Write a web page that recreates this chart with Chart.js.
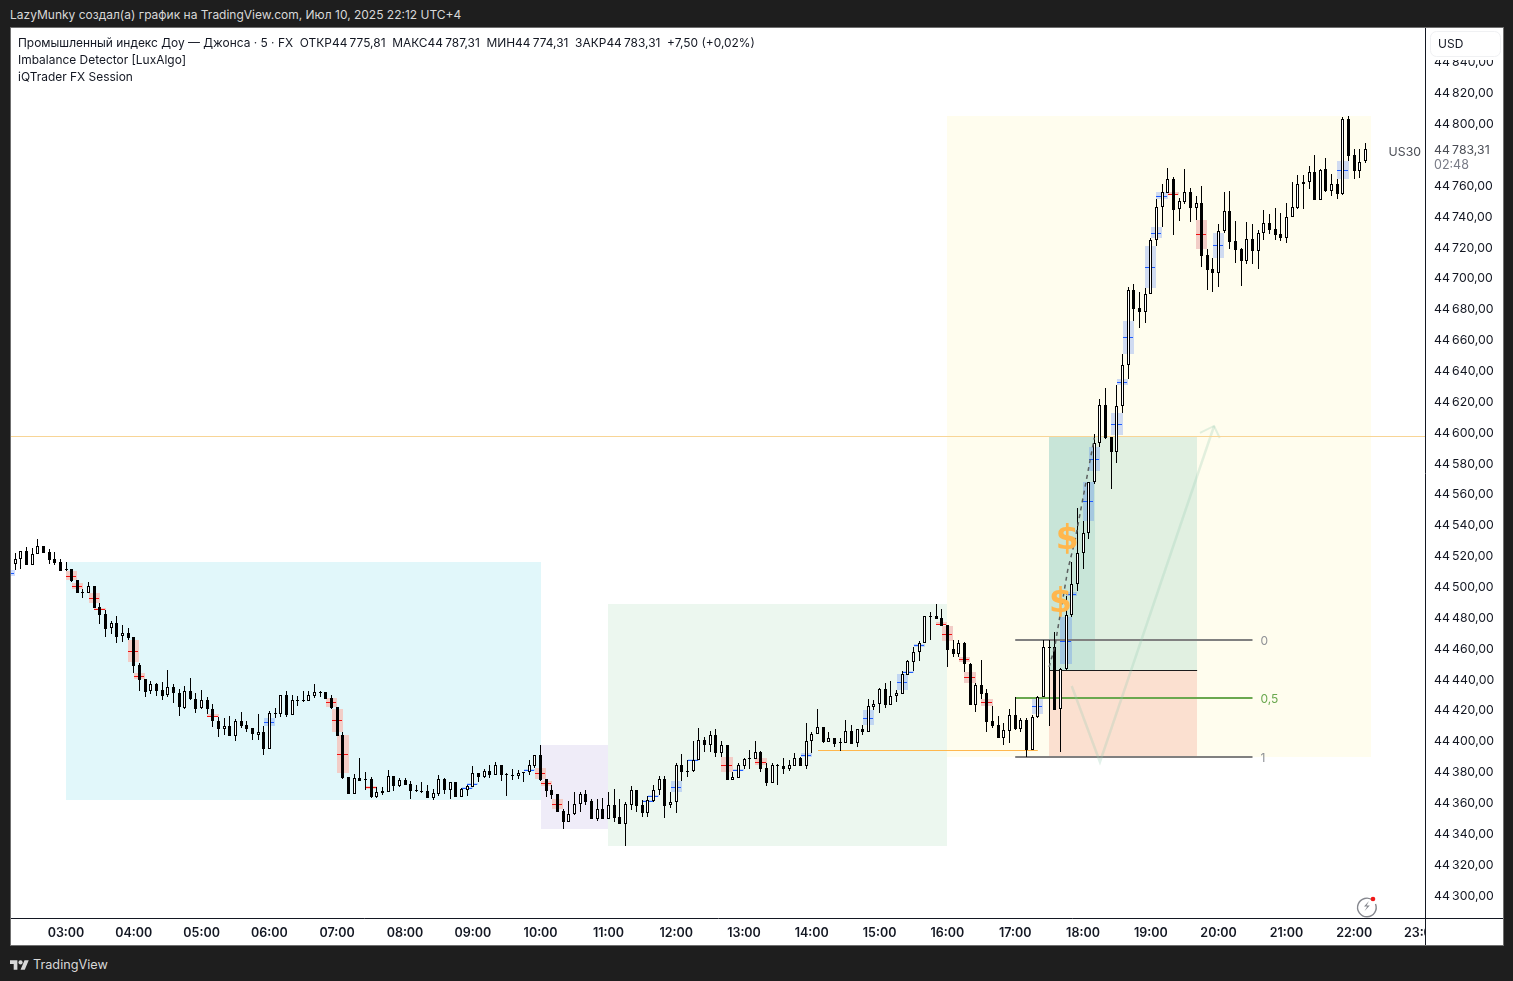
<!DOCTYPE html>
<html lang="ru"><head><meta charset="utf-8">
<title>US30 5m</title>
<script src="https://cdn.jsdelivr.net/npm/chart.js@4"></script>
<style>
html,body{margin:0;padding:0;background:#1e1e1e;width:1513px;height:981px;overflow:hidden;font-family:Inter,"Noto Sans",sans-serif}
#frame{position:absolute;left:11px;top:28px;width:1492px;height:917px;background:#fff;box-shadow:0 0 0 1px #6f6f6f}
#chart{position:absolute;left:0;top:0}
.t{position:absolute;white-space:pre;line-height:16px}
#head{left:10px;top:7px;color:#d8d8d8;font-size:12px}
.leg{left:18px;color:#131722;font-size:11.95px}
#brand{left:33px;top:957px;color:#d8d8d8;font-size:12.7px}
svg{position:absolute}
</style></head><body>
<div class="t" id="head">LazyMunky создал(а) график на TradingView.com, Июл 10, 2025 22:12 UTC+4</div>
<div id="frame"><canvas id="chart" width="1492" height="917"></canvas></div>
<div class="t leg" style="top:35px">Промышленный индекс Доу — Джонса · 5 · FX  ОТКР44&#8201;775,81  МАКС44&#8201;787,31  МИН44&#8201;774,31  ЗАКР44&#8201;783,31  +7,50 (+0,02%)</div>
<div class="t leg" style="top:52px">Imbalance Detector [LuxAlgo]</div>
<div class="t leg" style="top:69px">iQTrader FX Session</div>
<svg style="left:10px;top:958px" width="19" height="13" viewBox="0 0 36 24"><path fill="#d8d8d8" d="M14 22H7V11H0V4h14v18zM28 22h-8l7.5-18h8L28 22z"/><circle cx="20" cy="8" r="4" fill="#d8d8d8"/></svg>
<div class="t" id="brand">TradingView</div>
<svg style="left:1355px;top:894px" width="24" height="24" viewBox="0 0 24 24"><path d="M18 6.5A9.3 9.3 0 1 0 20.5 10" fill="none" stroke="#85878e" stroke-width="1.4"/><path d="M14 7l-5 5.6h3.2L9.6 17l5.2-5.6h-3.2z" fill="#85878e"/><circle cx="18" cy="5" r="2.3" fill="#f01818"/></svg>
<script>
const firstBar = -10;
const hourLabels = ['03:00','04:00','05:00','06:00','07:00','08:00','09:00','10:00','11:00','12:00','13:00','14:00','15:00','16:00','17:00','18:00','19:00','20:00','21:00','22:00','23:00'];
const opens = [
44514.9,44514.7,44517.5,44522.7,44514.1,44520.8,44525.9,44522,44517.5,44515.6,
44511,44511,44503.9,44496.4,44495.5,44500,44486.4,44481.9,44472.8,44476,
44467.6,44469.6,44467,44448.8,44439.8,44432,44436.5,44432.6,44429.4,44434.6,
44430.9,44421.4,44432,44426.8,44421,44426.1,44420.3,44412.5,44407.8,44409.3,
44403.2,44412.5,44409.9,44408,44403.9,44405.4,44394.8,44417.5,44417.5,44429.4,
44416.9,44426.4,44426.1,44425.9,44429.2,44431.3,44431.3,44427.7,44421.8,44403.7,
44376.5,44365.7,44375.8,44375.2,44375.2,44363.7,44367.2,44367,44376.9,44370.8,
44374.3,44371.7,44367.8,44367.2,44367.2,44363.1,44365.7,44375,44368.3,44373,
44363.7,44368.3,44370.2,44378.8,44376.7,44380.1,44378,44384,44378.2,44377.5,
44377.3,44379.3,44379.5,44383.8,44390.5,44375,44367.8,44365.2,44354.4,44347.5,
44352.3,44358.8,44365.2,44360.9,44349.5,44355.5,44349.5,44358.1,44350.3,44346.2,
44358.5,44368,44358.3,44353.3,44361.1,44367.8,44375.3,44358,44360,44384,
44379.9,44380.1,44387.6,44400.4,44397.4,44403.4,44392.2,44396.9,44374.7,44376,
44383.8,44388.3,44388.3,44392.4,44382.2,44372.7,44384,44383.3,44381.8,44383.8,
44388.7,44383.8,44399.5,44404,44408.8,44399.3,44401.5,44399.1,44398.7,44406,
44398.2,44407.3,44405.8,44422,44423.5,44433.2,44423.3,44428.7,44430.4,44442.7,
44451.1,44457.2,44463.5,44480.5,44480.7,44479.2,44474.7,44459.4,44456.2,44463.3,
44449.7,44423.3,44436.1,44430.7,44412.5,44410.2,44402,44406.5,44416.6,44407.8,
44413.4,44394.2,44415.1,44428.1,44460.7,44460.5,44420.3,44446.2,44481.2,44501.3,
44521.4,44534.4,44567.4,44592.7,44617.5,44596.8,44587.3,44616.7,44643.3,44691.8,
44680.1,44678,44689.2,44724.4,44745.6,44755.1,44763.9,44744.3,44749.3,44755.3,
44744.9,44748.4,44714.5,44705.6,44703.2,44730.5,44743,44723.8,44718.4,44711,
44724.9,44717.5,44728.7,44735.2,44731.3,44728.1,44725.9,44739.1,44745.2,44760.5,
44761.8,44768.3,44750.6,44770.2,44756.4,44760.5,44754.2,44802.8,44779.3,44769.4,
44775.81];
const highs = [
44515.4,44521.4,44522.7,44525.7,44524.6,44530.7,44525.9,44524,44522,44517.5,
44515.6,44511,44503.9,44498.1,44502.6,44500,44489,44484.5,44477.3,44480.6,
44474.7,44472.8,44467,44450.6,44439.8,44438.5,44437.6,44437.8,44445.8,44436.7,
44433.3,44435.4,44440.4,44430.9,44432.6,44428.1,44423.8,44415.1,44414.7,44416,
44413.8,44418.6,44412.8,44408,44417.3,44409.5,44419,44421.2,44429.6,44432,
44429.4,44428.7,44432.2,44432.2,44436.7,44432.2,44431.3,44429.4,44421.8,44405.4,
44376.5,44378.4,44388.8,44379.7,44376.2,44369.8,44370,44381,44376.9,44375.6,
44375.8,44373.7,44371,44373.2,44371,44368.5,44377.8,44375.8,44373.2,44373,
44369.3,44371,44383.4,44379,44381.4,44384,44386,44384,44379.3,44381.6,
44381,44379.5,44387.5,44390.7,44397.2,44375.2,44371.3,44365.4,44355.5,44360.9,
44366.7,44366.7,44367.8,44362,44362,44362.9,44366.7,44368.7,44362,44360,
44370.4,44368,44361.5,44364.3,44371,44376.8,44376.8,44366.7,44385.7,44391.3,
44387.2,44399.5,44407.9,44402.3,44406.2,44407.3,44399.9,44396.9,44379.6,44385.3,
44388.5,44393.9,44399.7,44393.2,44385.5,44385.7,44384.8,44388.5,44387.4,44391.7,
44389.1,44411.2,44405.6,44420.5,44408.8,44405.3,44401.5,44401.5,44413.1,44409.9,
44407.3,44409.9,44427,44426.1,44434.1,44437.1,44438.6,44432.8,44445.1,44452,
44460.4,44464.3,44480.5,44483.3,44488.5,44485.3,44474.9,44465.2,44465.2,44463.7,
44450.6,44437.2,44452.3,44433.3,44422.5,44416,44411.7,44420.3,44428.5,44414.5,
44414.5,44416.6,44428.9,44465.2,44465.2,44470.4,44446.9,44493.8,44515.6,44550.6,
44542.4,44567.8,44598.5,44621.4,44628.3,44597,44630.5,44650.4,44693.8,44695.7,
44690.7,44693.3,44725.5,44751,44760.7,44771.1,44765.2,44751.4,44770.2,44758.1,
44752.9,44759.4,44718.6,44712.8,44734.8,44755.3,44756.2,44736.7,44719,44736.1,
44734.8,44730.7,44743.6,44741.3,44744.9,44741.9,44748.4,44762,44766.5,44766.5,
44772.4,44779.3,44770.2,44777.6,44767,44764,44803.9,44804.8,44783.4,44783.2,
44787.31];
const lows = [
44503,44510.6,44511.5,44513.6,44514.1,44520.8,44521.8,44514.5,44514.1,44510.2,
44510.2,44502.6,44495.9,44492.5,44495.5,44486.2,44475.8,44467.4,44469.3,44463.5,
44464.2,44465.5,44444.1,44432.2,44428.5,44430.5,44429.2,44426.4,44428.5,44424.6,
44416.2,44420.7,44426.4,44417.9,44420.7,44417.3,44409.1,44402.6,44403.7,44403,
44400,44408.4,44405.8,44400.4,44400.7,44391,44394.8,44414.7,44415.6,44415.6,
44416.9,44422.7,44425.3,44425.9,44427.9,44428.5,44427,44420.7,44403.2,44375.4,
44365.7,44365.7,44374.1,44368,44363.1,44363.1,44364.6,44367,44367.6,44370.2,
44371.3,44362.4,44366.7,44366.1,44362.9,44361.8,44364.4,44365.4,44362.4,44363.7,
44363.7,44364.4,44370.2,44373.4,44375.6,44376,44378,44374.1,44364.4,44374.5,
44375.4,44373.4,44377.8,44382.3,44373.9,44363.5,44362.2,44353.8,44342.6,44347.5,
44351.6,44354,44358.3,44349.5,44348.2,44349.5,44349.5,44347.3,44345.8,44332,
44355,44353.9,44350.7,44350.7,44360.4,44364.7,44350,44356.5,44352.9,44373.8,
44376.6,44379.9,44387.6,44392.6,44392.6,44389.4,44389.6,44374.7,44374.7,44375.5,
44381.6,44381.6,44388.3,44379.9,44370.8,44372.7,44371.4,44378.6,44380.3,44383.8,
44383.8,44381.6,44392,44404,44398.7,44399.3,44395.8,44393.2,44398.7,44398,
44395.8,44403.6,44405.8,44419.6,44417.9,44421.1,44423.3,44424.8,44430.4,44442.7,
44445.3,44451.8,44463.5,44465.2,44478.8,44474.5,44447.9,44454.4,44454,44444.7,
44423.3,44418.8,44427.2,44405.8,44408.4,44402,44397.4,44398.7,44406.9,44405.8,
44389.6,44394.2,44414.5,44428.1,44409.7,44420.1,44392.9,44445.8,44480.4,44497.2,
44511.5,44530.9,44566.1,44590.5,44595.5,44562.9,44580.2,44612.6,44634.4,44671.9,
44667.6,44670.8,44689.2,44720.7,44733,44755.1,44727.9,44736.9,44747.7,44736.1,
44737.4,44707.1,44692.2,44690.9,44694.2,44729,44718.8,44709.7,44694.8,44709.1,
44709.1,44705.8,44724.6,44728.3,44724.2,44724,44722.7,44739.1,44744.5,44744.5,
44757.7,44750.6,44750.6,44755.3,44753.1,44751.2,44753.8,44775.6,44764.2,44764.8,
44774.31];
const closes = [
44503.5,44517.5,44522.7,44514.1,44520.8,44525.9,44521.8,44517.3,44515.4,44510.2,
44510.4,44503.7,44495.9,44495.9,44500,44486.2,44481.7,44472.6,44476,44467.4,
44469.6,44466.8,44448.6,44439.5,44431.8,44436.5,44432.4,44429.2,44434.6,44430.7,
44421.6,44432,44426.8,44420.7,44426.1,44420.3,44412.5,44407.8,44409.3,44403.2,
44412.5,44409.7,44407.8,44404.1,44405.4,44394.8,44417.7,44417.9,44429.4,44416.9,
44426.1,44426.1,44425.7,44429.4,44431.3,44431.5,44427,44421.2,44403.2,44375.8,
44365.7,44375.8,44374.1,44374.7,44363.5,44366.5,44366.1,44376.9,44370.8,44374.3,
44371.5,44367.6,44367.6,44366.7,44363.1,44365.9,44375.2,44368.3,44373,44363.7,
44368.5,44370.4,44378.8,44376.7,44380.1,44377.8,44384,44377.8,44377.5,44377.3,
44378.8,44379.5,44384,44390.5,44374.3,44367.6,44365,44354,44347.5,44352.3,
44358.8,44365.2,44360.5,44349.5,44355.5,44349.5,44358.1,44350.1,44346.2,44358.8,
44367.8,44357.8,44353.3,44361.3,44367.8,44374.9,44357.8,44360,44384,44379.4,
44380.1,44387.6,44400.2,44397.4,44403.4,44392.2,44396.9,44374.7,44376.2,44384,
44387.8,44388.5,44392.4,44381.6,44372.7,44384,44384.2,44381.8,44384,44388.5,
44383.8,44399.5,44404,44408.6,44398.9,44401.5,44398,44398.9,44406,44398,
44407.3,44405.8,44422.2,44423.5,44433.2,44423.1,44428.7,44430.6,44442.9,44451.4,
44457.2,44463.5,44480.5,44480.7,44478.8,44474.5,44458.9,44456.2,44463.1,44449.9,
44423.3,44436.1,44430.3,44412.3,44409.5,44402,44406.7,44416.6,44407.6,44413.4,
44393.6,44415.1,44428.1,44460.5,44460.3,44420.1,44446.2,44481.2,44501.3,44521.4,
44534.4,44567.4,44592.7,44617.3,44595.9,44587.3,44616.7,44643.3,44691.8,44679.7,
44678,44689.2,44724.4,44745.6,44755.3,44763.7,44744,44749.5,44755.3,44745.4,
44748.2,44714.3,44705.2,44703.2,44730.5,44743,44723.3,44718.2,44711,44724.9,
44717.5,44728.7,44735.2,44731.1,44727.9,44725.9,44739.1,44745.6,44760.5,44761.8,
44768.3,44750.6,44770,44756.2,44760.5,44754.4,44802.6,44779,44769.4,44774.7,
44783.31];

// Imbalance Detector gaps: centre bar, side, upper and lower price
const fvgBars = [-10,1,2,5,6,12,13,26,36,47,48,49,54,71,72,82,84,85,87,103,104,108,111,117,119,123,131,142,148,149,151,155,156,159,160,163,172,177,178,181,182,186,187,188,192,193,194,196,201,204,226];
const fvgSides = ['b','r','r','r','r','r','r','r','b','r','r','r','r','b','b','b','r','r','r','b','b','b','b','r','b','r','b','b','b','b','b','r','r','r','r','r','b','b','b','b','b','b','b','b','b','b','b','r','r','b','b'];
const fvgTops = [44510.6,44510,44502,44495.7,44486,44465.2,44443.6,44417.3,44414.7,44427.7,44420.5,44403.7,44370.6,44369.8,44372.4,44381.4,44382.3,44373.9,44362.2,44361.3,44364.5,44373.8,44387.9,44389.4,44381.4,44388.5,44392,44419.8,44443.1,44445.3,44462.4,44476.6,44474.3,44454.2,44444.5,44426.8,44427.4,44479.9,44496.3,44567.4,44590.5,44612.4,44634.4,44672,44720.5,44732.8,44755.3,44755.3,44737.4,44729,44775.6];
const fvgBottoms = [44506.7,44504,44498.3,44489.2,44484.5,44451.2,44440,44415.1,44409.5,44422,44405.6,44379.3,44368.9,44368.5,44371.1,44380.1,44375.2,44370.8,44355.7,44360,44363.2,44366.7,44386.6,44379.6,44380.1,44384.2,44389.4,44410.1,44432.8,44443.6,44460.9,44475.1,44464.5,44451.2,44437.6,44422.7,44417.3,44449.7,44493.8,44542.6,44575,44597.9,44630.5,44650.8,44693.3,44725.7,44751.2,44753.8,44718.8,44712.8,44764.2];

// Session and position boxes: from bar, to bar, upper price, lower price
const sessionCyan = [0,84,44515.8,44361.5];
const sessionLavender = [84,96,44397.2,44342.7];
const sessionGreen = [96,156,44488.5,44331.7];
const sessionYellow = [156,231,44804.8,44389.4];
const longProfit = [174,200.2,44597.4,44445.3];
const longProfitNear = [174,182.1,44597.4,44445.3];
const longLoss = [174,200.2,44445.3,44389.4];

// Drawn lines, as [bar, price]
const levelLine = [[-10,44597.4],[241,44597.4]];
const sweepLine = [[133.1,44393.6],[172,44393.6]];
const entryLine = [[174,44445.3],[200.2,44445.3]];
const fibZero = [[168,44465.2],[210,44465.2]];
const fibHalf = [[168,44427.6],[210,44427.6]];
const fibOne = [[168,44389.4],[210,44389.4]];
const dashedPath = [[174,44447.7],[175,44460.7],[175.8,44478.2],[177.3,44510.6],[178.6,44530],[180.5,44567],[182,44596.1]];
const arrowPath = [[178,44435.4],[183,44386.2],[203.2,44603.9]];
const arrowHead = [[200.7,44599.4],[203.2,44603.9],[204.2,44596.1]];
const dollarMarks = [[177.2,44531.3],[176,44490.5]];
const fibLabels = [['0',44465.2,'#8f9196'],['0,5',44427.6,'#6aa84f'],['1',44389.4,'#8f9196']];
const lastPriceText = '44\u2009783,31';
const countdownText = '02:48';
const symbolText = 'US30';
const currencyText = 'USD';

const pts = a => a.map(p => ({x:p[0],y:p[1]}));
const bars = opens.map((_,i) => firstBar + i);
const up = i => closes[i] >= opens[i];
const lineSet = (a,color,width,extra) => Object.assign({type:'line',data:pts(a),borderColor:color,borderWidth:width,pointRadius:0,order:5,tension:0},extra||{});

const snapBars = {
  id:'snapBars',
  afterDatasetsUpdate(chart){
    chart.data.datasets.forEach((d,di) => {
      const els = chart.getDatasetMeta(di).data;
      if (d.type === 'line') {
        if (d.crisp) els.forEach(el => { el.y = d.borderWidth % 2 ? Math.round(el.y - .5) + .5 : Math.round(el.y); });
        return;
      }
      els.forEach(el => {
        el.x = Math.round(el.x - .5) + .5;
        let a = Math.round(el.y), b = Math.round(el.base);
        if (a === b) b = a + 1;
        el.y = a; el.base = b; el.height = b - a;
      });
    });
  },
  beforeDraw(chart){
    // price labels sit one pixel under their tick in the reference
    chart.scales.y.getLabelItems(chart.chartArea).forEach(it => { it.options.translation[1] += 1; });
  }
};
function box(ctx,x,y,b,color){
  const l=x.getPixelForValue(b[0]), r=x.getPixelForValue(b[1]);
  const t=y.getPixelForValue(b[2]), o=y.getPixelForValue(b[3]);
  ctx.fillStyle=color; ctx.fillRect(Math.round(l),Math.round(t),Math.round(r)-Math.round(l),Math.round(o)-Math.round(t));
}
const zones = {
  id:'zones',
  beforeDatasetsDraw(chart){
    const {ctx,scales:{x,y},chartArea:c}=chart;
    ctx.save();
    ctx.beginPath(); ctx.rect(c.left,c.top,c.right-c.left,c.bottom-c.top); ctx.clip();
    box(ctx,x,y,sessionCyan,'#e1f7fa');
    box(ctx,x,y,sessionLavender,'#efecf8');
    box(ctx,x,y,sessionGreen,'#ecf7ef');
    box(ctx,x,y,sessionYellow,'#fffdee');
    box(ctx,x,y,longProfit,'#e1f0e1');
    box(ctx,x,y,longProfitNear,'#c8e5d8');
    box(ctx,x,y,longLoss,'#fbe0d0');
    fvgBars.forEach((b,i) => {
      const blue = fvgSides[i]==='b';
      box(ctx,x,y,[b-1,b+1,fvgTops[i],fvgBottoms[i]],blue?'rgba(41,98,255,.22)':'#f2cdc7');
      const m = Math.round(y.getPixelForValue((fvgTops[i]+fvgBottoms[i])/2));
      ctx.fillStyle = blue?'#1e5cff':'#f01010';
      const l = Math.round(x.getPixelForValue(b-1));
      ctx.fillRect(l,m,Math.round(x.getPixelForValue(b+1))-l-1,1);
    });
    ctx.font='12px Inter, sans-serif'; ctx.textBaseline='middle'; ctx.textAlign='left';
    fibLabels.forEach(f => { ctx.fillStyle=f[2]; ctx.fillText(f[0],x.getPixelForValue(210)+8,y.getPixelForValue(f[1])+1.5); });
    ctx.restore();
  },
  afterDatasetsDraw(chart){
    const {ctx,scales:{x,y}}=chart;
    ctx.save();
    ctx.fillStyle='#ffb74d'; ctx.font='bold 33px "DejaVu Sans", sans-serif'; ctx.textAlign='center'; ctx.textBaseline='middle';
    dollarMarks.forEach(d => ctx.fillText('$',x.getPixelForValue(d[0]),y.getPixelForValue(d[1])+2));
    ctx.restore();
  },
  afterDraw(chart){
    const {ctx,scales:{y},chartArea:c,width,height}=chart;
    ctx.save();
    // corner under the price scale hides the cut 23:00 label
    ctx.fillStyle='#fff'; ctx.fillRect(c.right+1,c.bottom,width-c.right-1,height-c.bottom);
    ctx.fillStyle='#131722'; ctx.fillRect(c.right,c.bottom,1,height-c.bottom); ctx.fillRect(c.right,c.bottom,width-c.right,1);
    // currency button with the strip that cuts the top price label
    ctx.fillStyle='#fff'; ctx.fillRect(c.right+1,0,width-c.right-1,32);
    ctx.strokeStyle='#f0f1f3'; ctx.lineWidth=1;
    ctx.beginPath(); ctx.roundRect(1419.5,3.5,70,25,6); ctx.fill(); ctx.stroke();
    ctx.textAlign='left'; ctx.textBaseline='middle';
    ctx.fillStyle='#131722'; ctx.font='12px Inter, sans-serif'; ctx.fillText(currencyText,1427,16);
    const py=y.getPixelForValue(closes[closes.length-1]);
    ctx.font='12.3px Inter, sans-serif'; ctx.fillStyle='#4a4d55'; ctx.fillText(lastPriceText,1423,py+1.5);
    ctx.fillStyle='#787b86'; ctx.font='12.5px Inter, sans-serif'; ctx.fillText(countdownText,1423,py+16);
    ctx.fillStyle='#4a4d55'; ctx.font='12.3px Inter, sans-serif'; ctx.textAlign='right'; ctx.fillText(symbolText,1410,py+3);
    ctx.restore();
  }
};
const noPad = s => { s.paddingTop=0; s.paddingBottom=0; s.paddingLeft=0; s.paddingRight=0; };

new Chart(document.getElementById('chart'),{
  type:'bar',
  data:{datasets:[
    {label:'Body',data:bars.map((b,i)=>({x:b,y:[opens[i],closes[i]]})),grouped:false,barThickness:3,order:1,inflateAmount:0,
     borderSkipped:false,borderWidth:1,borderColor:'#000',backgroundColor:bars.map((b,i)=>up(i)?'#fff':'#000')},
    {label:'Wick',data:bars.map((b,i)=>({x:b,y:[lows[i],highs[i]]})),grouped:false,barThickness:1,order:2,inflateAmount:0,
     borderSkipped:false,borderWidth:0,backgroundColor:'#000'},
    lineSet(dashedPath,'#5b5f5f',1.5,{borderDash:[4,4],order:0}),
    lineSet(levelLine,'#f8d596',1,{crisp:true}),
    lineSet(arrowPath,'rgba(150,205,180,.28)',2.5),
    lineSet(arrowHead,'rgba(150,205,180,.28)',2),
    lineSet(sweepLine,'#ffb74d',1,{crisp:true}),
    lineSet(entryLine,'#1c1c1c',1,{crisp:true}),
    lineSet(fibZero,'#808080',2,{crisp:true}),
    lineSet(fibHalf,'#6aa84f',2,{crisp:true}),
    lineSet(fibOne,'#808080',2,{crisp:true})
  ]},
  options:{
    responsive:false,animation:false,devicePixelRatio:1,
    layout:{padding:0},
    plugins:{legend:{display:false},tooltip:{enabled:false},title:{display:false}},
    events:[],
    scales:{
      x:{type:'linear',offset:false,min:-9.735,max:240.53,
        grid:{display:false,drawTicks:false,offset:false},border:{color:'#131722'},
        afterFit(s){s.height=27;noPad(s);},
        ticks:{stepSize:12,includeBounds:false,autoSkip:false,maxRotation:0,padding:8,color:'#131722',
          font:{family:'Inter, sans-serif',size:12.5,weight:'600'},
          callback:v=>hourLabels[v/12]||''}},
      y:{type:'linear',position:'right',min:44285.05,max:44861.8,
        grid:{display:false,drawTicks:false},border:{color:'#131722'},
        afterFit(s){s.width=78;noPad(s);},
        ticks:{stepSize:20,includeBounds:false,autoSkip:false,padding:9,color:'#131722',
          font:{family:'Inter, sans-serif',size:12.3},
          callback:v=>{
            if (v===44780||v===44860) return '';
            const s=v.toFixed(2).replace('.',',');
            return s.slice(0,2)+'\u2009'+s.slice(2);
          }}}
    }
  },
  plugins:[snapBars,zones]
});
</script>
</body></html>
